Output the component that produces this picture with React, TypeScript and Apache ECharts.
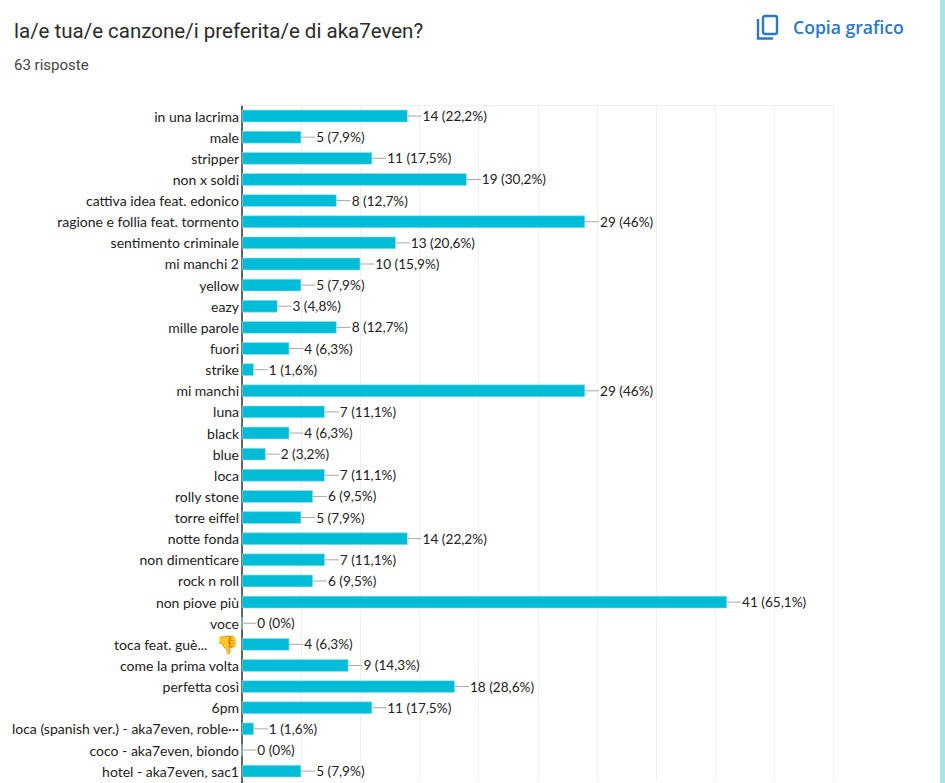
import React, { useEffect, useRef } from "react";
import * as echarts from "echarts";

const categories = [
  "in una lacrima", "male", "stripper", "non x soldi", "cattiva idea feat. edonico",
  "ragione e follia feat. tormento", "sentimento criminale", "mi manchi 2", "yellow", "eazy",
  "mille parole", "fuori", "strike", "mi manchi", "luna", "black", "blue", "loca",
  "rolly stone", "torre eiffel", "notte fonda", "non dimenticare", "rock n roll",
  "non piove più", "voce", "toca feat. guè... 👎", "come la prima volta", "perfetta così",
  "6pm", "loca (spanish ver.) - aka7even, roble···", "coco - aka7even, biondo", "hotel - aka7even, sac1",
];
const values = [14, 5, 11, 19, 8, 29, 13, 10, 5, 3, 8, 4, 1, 29, 7, 4, 2, 7, 6, 5, 14, 7, 6, 41, 0, 4, 9, 18, 11, 1, 0, 5];
const percents = ["22,2%", "7,9%", "17,5%", "30,2%", "12,7%", "46%", "20,6%", "15,9%", "7,9%", "4,8%", "12,7%", "6,3%", "1,6%", "46%", "11,1%", "6,3%", "3,2%", "11,1%", "9,5%", "7,9%", "22,2%", "11,1%", "9,5%", "65,1%", "0%", "6,3%", "14,3%", "28,6%", "17,5%", "1,6%", "0%", "7,9%"];

const title = "la/e tua/e canzone/i preferita/e di aka7even?";
const subtitle = "63 risposte";
const copyLabel = "Copia grafico";
const labelFont = "Lato, 'Noto Sans', sans-serif";
const LEADER = 14;

export default function App() {
  const ref = useRef<HTMLDivElement>(null);
  useEffect(() => {
    document.body.style.margin = "0";
    const chart = echarts.init(ref.current!, undefined, { renderer: "svg" });
    chart.setOption({
      animation: false,
      backgroundColor: "#ffffff",
      grid: { left: 242, top: 105.5, width: 591.5, height: 676.2, outerBoundsMode: "none" },
      xAxis: {
        type: "value", min: 0, max: 50, interval: 5, position: "top",
        axisLabel: { show: false }, axisTick: { show: false },
        axisLine: { show: true, lineStyle: { color: "#efefef", width: 1 } },
        splitLine: { show: true, lineStyle: { color: "#f0f0f0", width: 1 } },
      },
      yAxis: {
        type: "category", data: categories, inverse: true,
        axisTick: { show: false },
        axisLine: { show: true, lineStyle: { color: "#333333", width: 1.5 } },
        axisLabel: {
          interval: 0, margin: 3, fontFamily: labelFont, fontSize: 14, color: "#222222",
          formatter: (v: string) => v.replace("👎", "{e|👎}"),
          rich: { e: { fontSize: 18, padding: [0, 1, 0, 5] } },
        },
      },
      series: [
        {
          type: "custom",
          data: values.map((v, i) => [v, i]),
          encode: { x: 0, y: 1 },
          z: 1,
          renderItem: (_p: any, api: any) => {
            const c = api.coord([api.value(0), api.value(1)]);
            return {
              type: "line",
              shape: { x1: c[0], y1: c[1], x2: c[0] + LEADER, y2: c[1] },
              style: { stroke: "#a8a8a8", lineWidth: 1 },
            };
          },
        },
        {
          type: "bar",
          data: values,
          barWidth: 12.5,
          z: 2,
          itemStyle: { color: "#00bcd6", borderColor: "#9fe3ee", borderWidth: 0.6 },
          label: {
            show: true, position: "right", distance: LEADER + 1,
            fontFamily: labelFont, fontSize: 13.6, color: "#222222",
            formatter: (p: any) => `${p.value} (${percents[p.dataIndex]})`,
          },
        },
      ],
      graphic: [
        { type: "text", x: 14, y: 20, style: { text: title, font: "400 20.5px Roboto", fill: "#2b2b2b" } },
        { type: "text", x: 14, y: 57, style: { text: subtitle, font: "400 15px Roboto", fill: "#444444", letterSpacing: 1 } },
        { type: "rect", shape: { x: 763, y: 16, width: 14, height: 18, r: 2 }, style: { fill: "none", stroke: "#2b78c9", lineWidth: 2.4 } },
        { type: "polyline", shape: { points: [[758, 19], [758, 38.5], [773, 38.5]] }, style: { fill: "none", stroke: "#2b78c9", lineWidth: 2.4 } },
        { type: "text", x: 793, y: 17.5, style: { text: copyLabel, font: "600 17.6px 'Open Sans'", fill: "#2b78c9" } },
        { type: "rect", shape: { x: 940, y: 0, width: 5, height: 783 }, style: { fill: "#a8e6ec" } },
        { type: "line", shape: { x1: 242, y1: 781, x2: 242, y2: 783 }, style: { stroke: "#333333", lineWidth: 1.5 } },
      ],
    });
    return () => chart.dispose();
  }, []);
  return <div ref={ref} style={{ width: 945, height: 783 }} />;
}
